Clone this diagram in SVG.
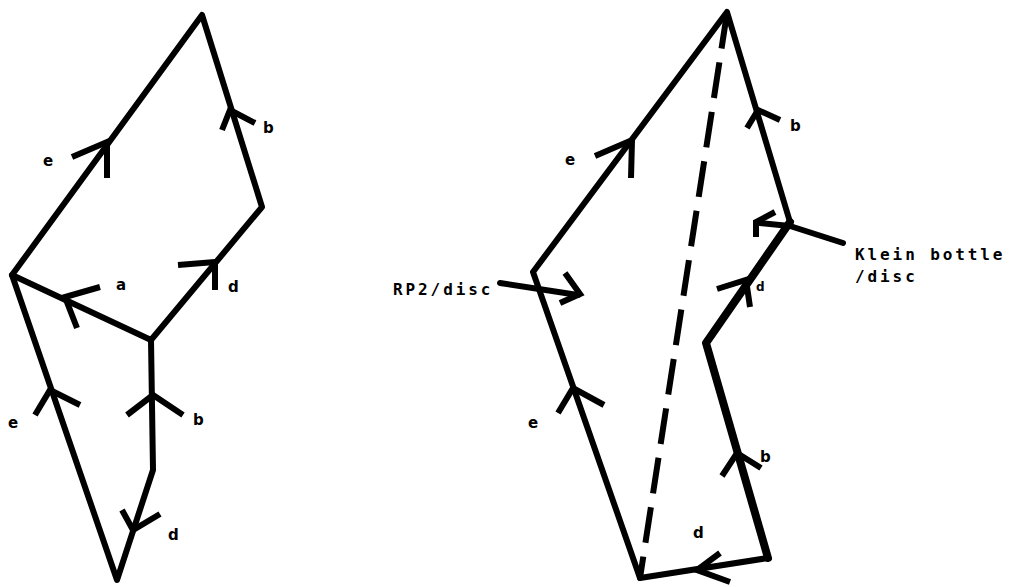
<svg xmlns="http://www.w3.org/2000/svg" width="1009" height="587" viewBox="0 0 1009 587">
<style>
.e{fill:none;stroke:#000;stroke-width:6;stroke-linecap:round;stroke-linejoin:round}
.t{stroke-width:8}
.dash{fill:none;stroke:#000;stroke-width:6;stroke-dasharray:36 14}
.h{fill:none;stroke:#000;stroke-width:6;stroke-linecap:butt;stroke-linejoin:miter}
.l{font-family:"DejaVu Sans","Liberation Sans",sans-serif;font-size:15px;font-weight:bold;fill:#000}
.m{font-family:"DejaVu Sans Mono","Liberation Mono",monospace;font-size:16px;font-weight:bold;letter-spacing:2.9px;fill:#000}
</style>
<rect width="1009" height="587" fill="#fff"/>
<g id="connectors">
  <polyline class="e" points="12,275 202,15 262,207 151,340 12,275"/>
  <polyline class="e" points="12,275 117,580 153,470 151,340"/>
  <polyline class="e" points="640,578 533,272 727,12 790,222"/>
  <polyline class="e t" points="790,222 706,343 768,558"/>
  <polyline class="e" points="768,558 640,578"/>
  <line class="dash" x1="727" y1="13" x2="640" y2="578"/>
  <line class="e" x1="500" y1="283" x2="578" y2="295"/>
  <line class="e" x1="843" y1="243" x2="790" y2="226"/>
  <line class="e" x1="790" y1="226" x2="760" y2="223"/>
  <polyline class="h" points="72,157 107,142 107,178"/>
  <polyline class="h" points="222,130 230,110 255,123"/>
  <polyline class="h" points="178,265 215,262 215,290"/>
  <polyline class="h" points="100,287 65,297 77,328"/>
  <polyline class="h" points="35,415 50,390 80,405"/>
  <polyline class="h" points="127,415 153,395 183,415"/>
  <polyline class="h" points="122,510 133,530 160,514"/>
  <polyline class="h" points="595,156 632,140 631,178"/>
  <polyline class="h" points="565,273 580,294 560,303"/>
  <polyline class="h" points="747,128 758,110 780,120"/>
  <polyline class="h" points="775,212 756,222 756,237"/>
  <polyline class="h" points="717,289 746,280 750,307"/>
  <polyline class="h" points="558,413 573,388 604,405"/>
  <polyline class="h" points="722,476 737,453 761,468"/>
  <polyline class="h" points="720,553 697,570 730,582"/>
</g>
<g id="left-labels">
  <text class="l" x="43" y="166">e</text>
  <text class="l" x="263" y="133">b</text>
  <text class="l" x="116" y="290">a</text>
  <text class="l" x="228" y="292">d</text>
  <text class="l" x="8" y="428">e</text>
  <text class="l" x="193" y="425">b</text>
  <text class="l" x="168" y="540">d</text>
</g>
<g id="right-labels">
  <text class="l" x="565" y="165">e</text>
  <text class="l" x="790" y="131">b</text>
  <text class="l" x="756" y="291" style="font-size:12px">d</text>
  <text class="l" x="528" y="428">e</text>
  <text class="l" x="760" y="462">b</text>
  <text class="l" x="693" y="538">d</text>
</g>
<g id="rp2-disc">
  <text class="m" x="393" y="295">RP2/disc</text>
</g>
<g id="klein-bottle-disc">
  <text class="m" x="855" y="260">Klein bottle</text>
  <text class="m" x="855" y="282">/disc</text>
</g>
</svg>
